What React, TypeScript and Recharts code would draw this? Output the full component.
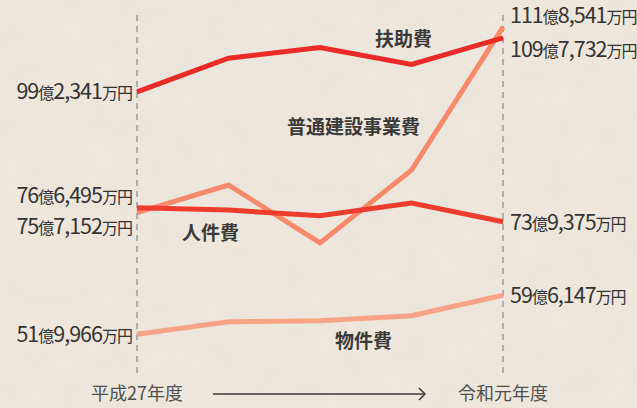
import React from 'react';
import { LineChart, Line, XAxis, YAxis, ReferenceLine, LabelList } from 'recharts';

const years = ['H27', 'H28', 'H29', 'H30', 'R1'];
const xTickLabels = ['平成27年度', '', '', '', '令和元年度'];

const fujo = [99.2341, 105.8, 107.9, 104.6, 109.7732];
const jinken = [76.6495, 76.2, 75.1, 77.6, 73.9375];
const futsuu = [75.7152, 81.1, 69.8, 84.0, 111.8541];
const bukken = [51.9966, 54.45, 54.65, 55.6, 59.6147];

const seriesNames = { fujo: '扶助費', jinken: '人件費', futsuu: '普通建設事業費', bukken: '物件費' };

const data = years.map((y, i) => ({
  year: y,
  fujo: fujo[i],
  jinken: jinken[i],
  futsuu: futsuu[i],
  bukken: bukken[i],
}));

const FONT = '"Noto Sans CJK JP", "Noto Sans", sans-serif';
const TEXT = '#333333';

type LabelCfg = { left: number; right: number; nameIdx: number; ndx: number; ndy: number };
const labelCfg: Record<string, LabelCfg> = {
  fujo: { left: 0, right: 12, nameIdx: 3, ndx: -8, ndy: -25 },
  jinken: { left: -12, right: 1, nameIdx: 1, ndx: -18, ndy: 23 },
  futsuu: { left: 14, right: -12, nameIdx: 3, ndx: -58, ndy: -43 },
  bukken: { left: 0, right: 0, nameIdx: 3, ndx: -48, ndy: 25 },
};

function splitValue(v: number) {
  const total = Math.round(v * 10000);
  const oku = Math.floor(total / 10000);
  const man = total % 10000;
  return { oku: String(oku), man: man.toLocaleString('en-US') };
}

function makeLabel(key: string) {
  const cfg = labelCfg[key];
  return (props: any) => {
    const { x, y, index, value } = props;
    const out: React.ReactNode[] = [];
    if (index === 0 || index === years.length - 1) {
      const { oku, man } = splitValue(value);
      const isLeft = index === 0;
      const cy = y + (isLeft ? cfg.left : cfg.right);
      out.push(
        <text
          key="v"
          x={isLeft ? x - 5 : x + 7}
          y={cy + 7.5}
          textAnchor={isLeft ? 'end' : 'start'}
          fill={TEXT}
          fontFamily={FONT}
          style={{ letterSpacing: '-1px' }}
        >
          <tspan fontSize={21.5}>{oku}</tspan>
          <tspan fontSize={16}>億</tspan>
          <tspan fontSize={21.5}>{man}</tspan>
          <tspan fontSize={16}>万円</tspan>
        </text>
      );
    }
    if (index === cfg.nameIdx) {
      out.push(
        <text
          key="n"
          x={x + cfg.ndx}
          y={y + cfg.ndy + 7}
          textAnchor="middle"
          fill="#3a3a3a"
          fontFamily={FONT}
          fontSize={19}
          fontWeight={700}
        >
          {(seriesNames as any)[key]}
        </text>
      );
    }
    return <g>{out}</g>;
  };
}

const XTick = (props: any) => {
  const { x, y, payload } = props;
  const idx = payload.index;
  const label = xTickLabels[idx];
  if (idx === 2) {
    return (
      <g>
        <line x1={x - 107} y1={y + 13} x2={x + 105} y2={y + 13} stroke="#3a3a3a" strokeWidth={1.5} />
        <polyline
          points={`${x + 99},${y + 7} ${x + 105},${y + 13} ${x + 99},${y + 19}`}
          fill="none"
          stroke="#3a3a3a"
          strokeWidth={1.5}
        />
      </g>
    );
  }
  if (!label) return <g />;
  return (
    <text x={x} y={y + 19} textAnchor="middle" fill="#505050" fontFamily={FONT} fontSize={18}>
      {label}
    </text>
  );
};

const lineColors = {
  fujo: '#ec2a28',
  jinken: '#ee3d2f',
  futsuu: '#f88a6b',
  bukken: '#f9a386',
};

export default function App() {
  return (
    <div style={{ position: 'absolute', left: 0, top: 0, width: 637, height: 408, background: '#eee8df', overflow: 'hidden' }}>
      <svg width={637} height={408} style={{ position: 'absolute', left: 0, top: 0 }}>
        <defs>
          <filter id="paper" x="0" y="0" width="100%" height="100%">
            <feTurbulence type="fractalNoise" baseFrequency="0.035" numOctaves={4} seed={3} />
            <feColorMatrix type="matrix" values="0 0 0 0 0.55  0 0 0 0 0.5  0 0 0 0 0.45  0 0 0 0.09 0" />
          </filter>
        </defs>
        <rect width={637} height={408} filter="url(#paper)" />
      </svg>
      <div style={{ position: 'absolute', left: 0, top: 0 }}>
        <LineChart width={637} height={408} data={data} margin={{ top: 10, right: 134, bottom: 0, left: 137 }}>
          <XAxis
            dataKey="year"
            axisLine={false}
            tickLine={false}
            tick={<XTick />}
            interval={0}
            height={35}
            padding={{ left: 0, right: 0 }}
          />
          <YAxis hide type="number" domain={[44.45, 115.21]} allowDataOverflow />
          <ReferenceLine x="H27" stroke="#9a9a9a" strokeWidth={1.5} strokeDasharray="6 5" />
          <ReferenceLine x="R1" stroke="#9a9a9a" strokeWidth={1.5} strokeDasharray="6 5" />
          <Line dataKey="bukken" stroke={lineColors.bukken} strokeWidth={5} dot={false} isAnimationActive={false} strokeLinejoin="miter">
            <LabelList dataKey="bukken" content={makeLabel('bukken')} />
          </Line>
          <Line dataKey="futsuu" stroke={lineColors.futsuu} strokeWidth={5} dot={false} isAnimationActive={false} strokeLinejoin="miter">
            <LabelList dataKey="futsuu" content={makeLabel('futsuu')} />
          </Line>
          <Line dataKey="jinken" stroke={lineColors.jinken} strokeWidth={5} dot={false} isAnimationActive={false} strokeLinejoin="miter">
            <LabelList dataKey="jinken" content={makeLabel('jinken')} />
          </Line>
          <Line dataKey="fujo" stroke={lineColors.fujo} strokeWidth={5} dot={false} isAnimationActive={false} strokeLinejoin="miter">
            <LabelList dataKey="fujo" content={makeLabel('fujo')} />
          </Line>
        </LineChart>
      </div>
    </div>
  );
}
